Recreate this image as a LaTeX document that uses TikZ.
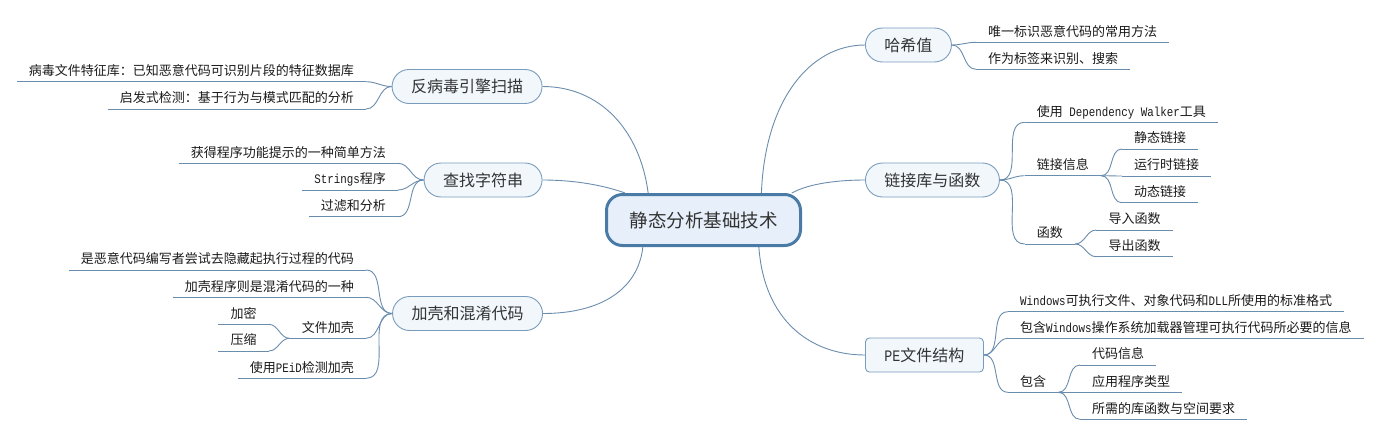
\documentclass[tikz,border=0pt]{standalone}
\usepackage{fontspec}
\setmainfont{Noto Sans CJK SC}
\newfontfamily\latm[FakeStretch=0.833]{Liberation Mono}
\newcommand{\mylat}[1]{{\latm #1}}
\definecolor{conncol}{HTML}{6A8CAD}
\definecolor{boxline}{HTML}{7A9CBC}
\definecolor{boxfill}{HTML}{F2F7FC}
\definecolor{cline}{HTML}{4A7BA6}
\definecolor{cfill}{HTML}{E7F0FA}
\definecolor{txt}{HTML}{333333}
\definecolor{leaftxt}{HTML}{1A1A1A}
\begin{document}
\begin{tikzpicture}[x=1pt,y=-1pt,
  conn/.style={draw=conncol,line width=0.9pt},
  central/.style={draw=cline,fill=cfill,line width=3pt,rounded corners=16pt,
    minimum width=194pt,minimum height=51pt,inner sep=0pt,text=txt,
    font=\fontsize{18.5pt}{20pt}\selectfont},
  topic/.style={draw=boxline,fill=boxfill,line width=0.9pt,rounded corners=17pt,
    minimum height=34pt,inner xsep=19pt,inner ysep=0pt,text=txt,
    font=\fontsize{16pt}{18pt}\selectfont},
  topicrect/.style={topic,rounded corners=4pt},
  leaf/.style={inner xsep=12pt,inner ysep=0pt,text height=10pt,text depth=6pt,
    text=leaftxt,font=\fontsize{13pt}{15pt}\selectfont},
  rleaf/.style={leaf,anchor=south west},
  lleaf/.style={leaf,anchor=south east}]
\useasboundingbox (0,0) rectangle (1385,440);

% central node
\node[central] (c) at (703.5,220) {静态分析基础技术};

% main topics
\node[topic,anchor=east] (fan) at (542.5,86.5) {反病毒引擎扫描};
\node[topic,anchor=east] (find) at (542.5,180) {查找字符串};
\node[topic,anchor=east] (obf) at (543,313.5) {加壳和混淆代码};
\node[topic,anchor=west] (hash) at (865,45) {哈希值};
\node[topic,anchor=west] (link) at (865,180) {链接库与函数};
\node[topicrect,anchor=west] (pe) at (865,355) {\mylat{PE}文件结构};

% left leaves
\node[lleaf] (a1) at (366,81.7) {病毒文件特征库：已知恶意代码可识别片段的特征数据库};
\node[lleaf] (a2) at (366,109) {启发式检测：基于行为与模式匹配的分析};
\node[lleaf] (s1) at (398,163.3) {获得程序功能提示的一种简单方法};
\node[lleaf] (s2) at (398,190) {\mylat{Strings}程序};
\node[lleaf] (s3) at (398,216.7) {过滤和分析};
\node[lleaf] (o1) at (366,270) {是恶意代码编写者尝试去隐藏起执行过程的代码};
\node[lleaf] (o2) at (366,297.3) {加壳程序则是混淆代码的一种};
\node[lleaf] (o3) at (366,338.3) {文件加壳};
\node[lleaf] (o31) at (268.7,324.3) {加密};
\node[lleaf] (o32) at (268.7,351) {压缩};
\node[lleaf] (o4) at (366,378.3) {使用\mylat{PEiD}检测加壳};

% right leaves
\node[rleaf] (h1) at (976,42.3) {唯一标识恶意代码的常用方法};
\node[rleaf] (h2) at (976,69.3) {作为标签来识别、搜索};
\node[rleaf] (k1) at (1024.7,122.3) {使用\mylat{\ Dependency Walker}工具};
\node[rleaf] (k2) at (1024.7,175.7) {链接信息};
\node[rleaf] (k21) at (1122,149) {静态链接};
\node[rleaf] (k22) at (1122,176) {运行时链接};
\node[rleaf] (k23) at (1122,202.7) {动态链接};
\node[rleaf] (k3) at (1024.7,244) {函数};
\node[rleaf] (k31) at (1096.3,230) {导入函数};
\node[rleaf] (k32) at (1096.3,256.7) {导出函数};
\node[rleaf] (p1) at (1008,311.7) {\mylat{Windows}可执行文件、对象代码和\mylat{DLL}所使用的标准格式};
\node[rleaf] (p2) at (1008,338.3) {包含\mylat{Windows}操作系统加载器管理可执行代码所必要的信息};
\node[rleaf] (p3) at (1008,392.3) {包含};
\node[rleaf] (p31) at (1080,365) {代码信息};
\node[rleaf] (p32) at (1080,392.3) {应用程序类型};
\node[rleaf] (p33) at (1080,419.3) {所需的库函数与空间要求};

% underlines
\foreach \n in {a1,a2,s1,s2,s3,o1,o2,o3,o31,o32,o4,h1,h2,k1,k2,k21,k22,k23,k3,k31,k32,p1,p2,p3,p31,p32,p33}
  \draw[conn] (\n.south west) -- (\n.south east);

% central connectors
\draw[conn] (c.154.5) .. controls (640,130) and (600,86.5) .. (fan.east);
\draw[conn] (c.161.7) .. controls (600,184) and (570,180) .. (find.east);
\draw[conn] (c.204.8) .. controls (638,290) and (600,313.5) .. (obf.east);
\draw[conn] (c.25.5) .. controls (765,100) and (810,45) .. (hash.west);
\draw[conn] (c.17.9) .. controls (810,183) and (840,180) .. (link.west);
\draw[conn] (c.334.5) .. controls (764,320) and (810,355) .. (pe.west);

% left branches
\foreach \n in {a1,a2} \draw[conn] (fan.west) to[out=180,in=0] (\n.south east);
\foreach \n in {s1,s2,s3} \draw[conn] (find.west) to[out=180,in=0] (\n.south east);
\foreach \n in {o1,o2,o3,o4} \draw[conn] (obf.west) to[out=180,in=0] (\n.south east);
\foreach \n in {o31,o32} \draw[conn] (o3.south west) to[out=180,in=0] (\n.south east);

% right branches
\foreach \n in {h1,h2} \draw[conn] (hash.east) to[out=0,in=180] (\n.south west);
\foreach \n in {k1,k2,k3} \draw[conn] (link.east) to[out=0,in=180] (\n.south west);
\foreach \n in {k21,k22,k23} \draw[conn] (k2.south east) to[out=0,in=180] (\n.south west);
\foreach \n in {k31,k32} \draw[conn] (k3.south east) to[out=0,in=180] (\n.south west);
\foreach \n in {p1,p2,p3} \draw[conn] (pe.east) to[out=0,in=180] (\n.south west);
\foreach \n in {p31,p32,p33} \draw[conn] (p3.south east) to[out=0,in=180] (\n.south west);
\end{tikzpicture}
\end{document}
